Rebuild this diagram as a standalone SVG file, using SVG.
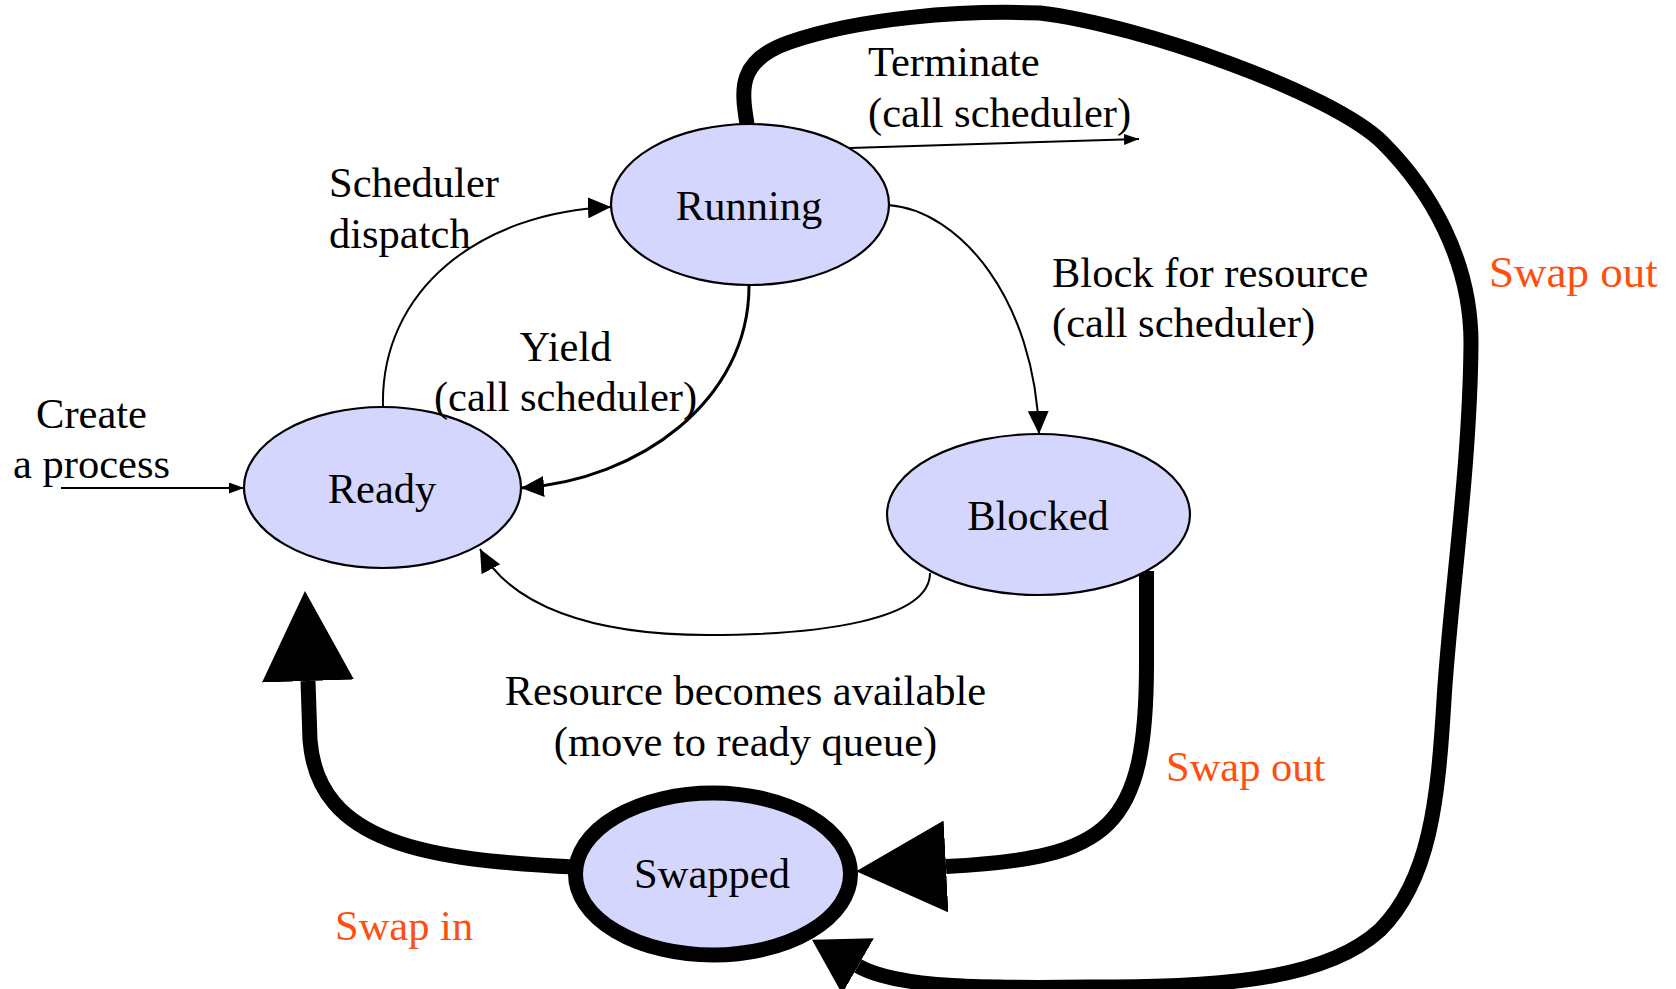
<svg xmlns="http://www.w3.org/2000/svg" width="1676" height="989" viewBox="0 0 1676 989">
  <style>
    .state ellipse { fill: #D5D6FD; stroke: #000; stroke-width: 2.2; }
    .state.heavy ellipse { stroke-width: 15; }
    text { font-family: "Liberation Serif", "Times New Roman", serif; font-size: 42.5px; fill: #000; }
    .mid { text-anchor: middle; }
    .swap { fill: #FF4F0F; }
    .thin { fill: none; stroke: #000; stroke-width: 2; }
    .mediumw { fill: none; stroke: #000; stroke-width: 3; }
    .thick { fill: none; stroke: #000; stroke-width: 15; }
  </style>
  <defs>
    <!-- arrowheads: small/medium ones sit on the path end at their tip,
         the large ones start at the path end and point forward -->
    <marker id="tipS" markerUnits="userSpaceOnUse" markerWidth="15" markerHeight="11" viewBox="0 0 15 11" refX="15" refY="5.5" orient="auto">
      <path d="M0,0 L15,5.5 L0,11 Z" fill="#000"/>
    </marker>
    <marker id="tipM" markerUnits="userSpaceOnUse" markerWidth="23" markerHeight="21" viewBox="0 0 23 21" refX="23" refY="10.5" orient="auto">
      <path d="M0,0 L23,10.5 L0,21 Z" fill="#000"/>
    </marker>
    <marker id="tipL" markerUnits="userSpaceOnUse" markerWidth="90" markerHeight="92" viewBox="0 0 90 92" refX="0" refY="46" orient="auto">
      <path d="M0,0 L90,46 L0,92 Z" fill="#000"/>
    </marker>
    <marker id="tipL2" markerUnits="userSpaceOnUse" markerWidth="53" markerHeight="64" viewBox="0 0 53 64" refX="0" refY="32" orient="auto">
      <path d="M0,0 L53,32 L0,64 Z" fill="#000"/>
    </marker>
  </defs>

  <rect width="1676" height="989" fill="#fff"/>

  <g id="connectors">
    <!-- create a process -> Ready -->
    <path class="thin" d="M61,488 L244,488" marker-end="url(#tipS)"/>
    <!-- Ready -> Running (scheduler dispatch) -->
    <path class="thin" d="M383,407 C380,290 480,212 611,207" marker-end="url(#tipM)"/>
    <!-- Running -> Ready (yield) -->
    <path class="mediumw" d="M749,286 C749,400 640,480 521,488" marker-end="url(#tipM)"/>
    <!-- Running -> exit (terminate) -->
    <path class="thin" d="M850,148 L1139,139" marker-end="url(#tipS)"/>
    <!-- Running -> Blocked -->
    <path class="thin" d="M888,205 C960,210 1035,300 1039,434" marker-end="url(#tipM)"/>
    <!-- Blocked -> Ready (resource available) -->
    <path class="thin" d="M930,573 C930,620 820,635 708,635 C590,635 510,605 480,549" marker-end="url(#tipM)"/>
    <!-- Blocked -> Swapped (swap out) -->
    <path class="thick" d="M1146.5,571 L1146.5,660 C1147,830 1110,858 946,866.5" marker-end="url(#tipL)"/>
    <!-- Swapped -> Ready (swap in) -->
    <path class="thick" d="M575,867 C430,860 318,845 310,740 L308,681" marker-end="url(#tipL)"/>
    <!-- Running -> Swapped (swap out, outer loop) -->
    <path class="thick" d="M747,124 C741,88 738,60 790,42 C860,18 960,10 1040,13 C1140,25 1333,93 1383,143 C1430,190 1471,260 1471,343 C1470,470 1450,600 1444,700 C1438,800 1430,880 1380,930 C1320,985 1200,986 1100,987 C1000,988 900,990 858,966" marker-end="url(#tipL2)"/>
  </g>

  <g id="running" class="state">
    <ellipse cx="750" cy="204.5" rx="139" ry="80.5"/>
    <text class="mid" x="749" y="220">Running</text>
  </g>
  <g id="ready" class="state">
    <ellipse cx="382.5" cy="487.5" rx="138.5" ry="80.5"/>
    <text class="mid" x="382" y="503">Ready</text>
  </g>
  <g id="blocked" class="state">
    <ellipse cx="1038.5" cy="514.5" rx="151.5" ry="80.5"/>
    <text class="mid" x="1038" y="530">Blocked</text>
  </g>
  <g id="swapped" class="state heavy">
    <ellipse cx="713" cy="874" rx="137.5" ry="81"/>
    <text class="mid" x="712" y="888">Swapped</text>
  </g>

  <g id="labels">
    <text x="868" y="76">Terminate</text>
    <text x="868" y="127">(call scheduler)</text>
    <text x="329" y="197">Scheduler</text>
    <text x="329" y="248">dispatch</text>
    <text x="1052" y="287">Block for resource</text>
    <text x="1052" y="337">(call scheduler)</text>
    <text class="mid" x="565.5" y="361">Yield</text>
    <text class="mid" x="565.5" y="411">(call scheduler)</text>
    <text class="mid" x="91.5" y="428">Create</text>
    <text class="mid" x="91.5" y="478">a process</text>
    <text class="mid" x="745.5" y="705">Resource becomes available</text>
    <text class="mid" x="745.5" y="756">(move to ready queue)</text>
    <text class="swap" x="1489" y="287" style="font-size:45px">Swap out</text>
    <text class="swap" x="1166" y="781">Swap out</text>
    <text class="swap" x="335" y="940">Swap in</text>
  </g>
</svg>
